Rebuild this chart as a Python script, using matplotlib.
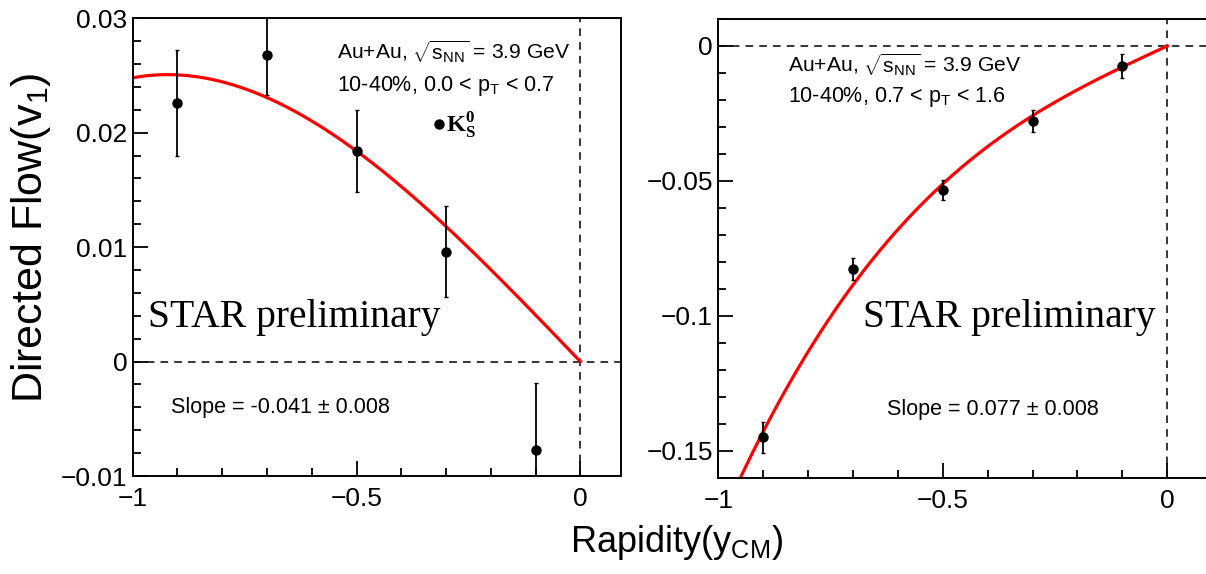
import numpy as np
import matplotlib
matplotlib.use("Agg")
import matplotlib.pyplot as plt
from matplotlib.ticker import FixedLocator, MultipleLocator

# K0s v1 vs rapidity, Au+Au 3.9 GeV, 10-40%
rapidity = [-0.9, -0.7, -0.5, -0.3, -0.1]

# low pT bin: 0.0 < pT < 0.7
v1_low = [0.0226, 0.0268, 0.0184, 0.0096, -0.0077]
v1_low_err = [0.0046, 0.0035, 0.0036, 0.0040, 0.0058]

# high pT bin: 0.7 < pT < 1.6
v1_high = [-0.145, -0.0825, -0.0532, -0.0278, -0.0075]
v1_high_err = [0.0057, 0.0041, 0.0037, 0.0040, 0.0045]

# fit v1 = p1*y + p3*y^3 (p1 = slope)
fit_low = (-0.0408, 0.0160)
fit_high = (0.077, 0.101)

# tick labels
x_ticks = [-1, -0.5, 0]
x_labels = ["\u22121", "\u22120.5", "0"]
left_yticks = [-0.01, 0, 0.01, 0.02, 0.03]
left_ylabels = ["\u22120.01", "0", "0.01", "0.02", "0.03"]
right_yticks = [-0.15, -0.1, -0.05, 0]
right_ylabels = ["\u22120.15", "\u22120.1", "\u22120.05", "0"]

plt.rcParams["font.family"] = ["Liberation Sans", "DejaVu Sans"]
plt.rcParams["mathtext.fontset"] = "custom"
plt.rcParams["mathtext.rm"] = "Liberation Sans"
plt.rcParams["mathtext.sf"] = "Liberation Sans"
plt.rcParams["mathtext.it"] = "Liberation Sans:italic"
plt.rcParams["mathtext.bf"] = "Liberation Serif:bold"

W, H = 1206, 574
fig = plt.figure(figsize=(W / 100, H / 100), dpi=100)


def px(x, y):
    # image pixel -> figure fraction
    return x / W, 1 - y / H


def add_axes(x0, y0, x1, y1):
    return fig.add_axes([x0 / W, 1 - y1 / H, (x1 - x0) / W, (y1 - y0) / H])


def style_axes(ax, yticks, ylabels, yminor):
    ax.set_xlim(-1, 0.09)
    ax.xaxis.set_major_locator(FixedLocator(x_ticks))
    ax.set_xticklabels(x_labels)
    ax.xaxis.set_minor_locator(MultipleLocator(0.1))
    ax.yaxis.set_major_locator(FixedLocator(yticks))
    ax.set_yticklabels(ylabels)
    ax.yaxis.set_minor_locator(MultipleLocator(yminor))
    ax.tick_params(which="both", direction="in", top=False, right=False,
                   labelsize=19, width=1.3)
    ax.tick_params(which="major", length=11)
    ax.tick_params(which="minor", length=5.5)
    ax.tick_params(axis="x", pad=8)
    ax.tick_params(axis="y", pad=4)
    for s in ax.spines.values():
        s.set_linewidth(1.4)
    ax.axhline(0, color="black", lw=1.1, dashes=(5, 4))
    ax.axvline(0, color="black", lw=1.1, dashes=(5, 4))


yfit = np.linspace(-1, 0, 300)

# left panel
ax1 = add_axes(132.7, 18.3, 620.7, 476)
ax1.set_ylim(-0.01, 0.03)
style_axes(ax1, left_yticks, left_ylabels, 0.002)
ax1.plot(yfit, fit_low[0] * yfit + fit_low[1] * yfit ** 3, color="#ff0000", lw=2.3)
ax1.errorbar(rapidity, v1_low, yerr=v1_low_err, fmt="o", color="black",
             ms=6.5, elinewidth=1.3, capsize=1.5)

# right panel
ax2 = add_axes(718.3, 19, 1207.7, 477.7)
ax2.set_ylim(-0.16, 0.01)
style_axes(ax2, right_yticks, right_ylabels, 0.01)
ax2.plot(yfit, fit_high[0] * yfit + fit_high[1] * yfit ** 3, color="#ff0000", lw=2.3)
ax2.errorbar(rapidity, v1_high, yerr=v1_high_err, fmt="o", color="black",
             ms=6.5, elinewidth=1.3, capsize=1.5)

# annotations
hdr = r"Au+Au, $\sqrt{\mathrm{s}_{\mathrm{NN}}}$ = 3.9 GeV"
fig.text(*px(337, 52), hdr, fontsize=15.2, va="center")
fig.text(*px(337, 86), r"10-40%, 0.0 < $\mathrm{p}_{\mathrm{T}}$ < 0.7", fontsize=15.5, va="center")
fig.text(*px(788, 65), hdr, fontsize=15.2, va="center")
fig.text(*px(788, 97), r"10-40%, 0.7 < $\mathrm{p}_{\mathrm{T}}$ < 1.6", fontsize=15.5, va="center")

# K0s legend entry
fig.lines.append(plt.Line2D([439 / W], [1 - 124 / H], marker="o", ms=6.5,
                            color="black", transform=fig.transFigure))
fig.text(*px(446, 125), r"$\mathbf{K}_{\mathbf{S}}^{\mathbf{0}}$", fontsize=17.5, va="center")

fig.text(*px(171, 408), "Slope = -0.041 \u00b1 0.008", fontsize=15.5, va="center")
fig.text(*px(887, 409), "Slope = 0.077 \u00b1 0.008", fontsize=15.5, va="center")

fig.text(*px(148, 327), "STAR preliminary", fontsize=28.5, family="Liberation Serif",
         va="baseline")
fig.text(*px(863, 327), "STAR preliminary", fontsize=28.5, family="Liberation Serif",
         va="baseline")

fig.text(*px(31, 238), r"Directed Flow(v$_{1}$)", fontsize=31, rotation=90,
         ha="center", va="center")
fig.text(*px(677, 543), r"Rapidity(y$_{\mathrm{CM}}$)", fontsize=26,
         ha="center", va="center")

fig.savefig("out.png", dpi=100)
